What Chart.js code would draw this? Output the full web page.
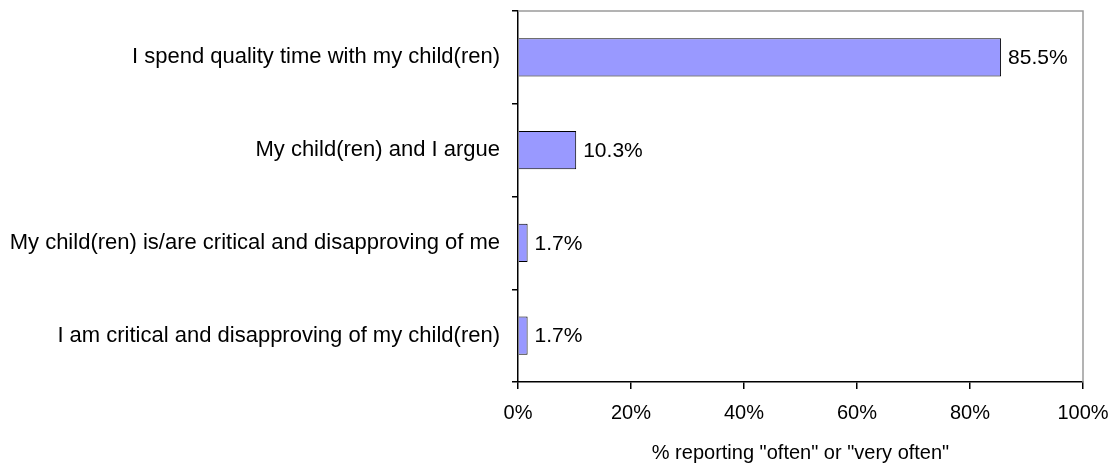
<!DOCTYPE html>
<html>
<head>
<meta charset="utf-8">
<script src="https://cdn.jsdelivr.net/npm/chart.js@4"></script>
<style>
  html, body { margin: 0; padding: 0; background: #fff; }
  #wrap { width: 1116px; height: 466px; }
</style>
</head>
<body>
<div id="wrap"><canvas id="parentChart"></canvas></div>
<script>
const categories = [
    'I spend quality time with my child(ren)',
    'My child(ren) and I argue',
    'My child(ren) is/are critical and disapproving of me',
    'I am critical and disapproving of my child(ren)'
];
const percentOften = [85.5, 10.3, 1.7, 1.7];
const xTicks = [0, 20, 40, 60, 80, 100];
const axisTitle = '% reporting "often" or "very often"';

const fontFamily = '"Liberation Sans", Arial, sans-serif';
Chart.defaults.font.family = fontFamily;
Chart.defaults.font.size = 20;
Chart.defaults.color = '#000';

// value label to the right of each bar
const barLabels = {
    id: 'barLabels',
    afterDatasetsDraw(chart) {
        const ctx = chart.ctx;
        const meta = chart.getDatasetMeta(0);
        ctx.save();
        ctx.font = '21px ' + fontFamily;
        ctx.fillStyle = '#000';
        ctx.textAlign = 'left';
        ctx.textBaseline = 'middle';
        meta.data.forEach((bar, i) => {
            ctx.fillText(percentOften[i].toFixed(1) + '%', bar.x + 7, bar.y + 1);
        });
        ctx.restore();
    }
};

// grey plot-area frame on top and right
const plotFrame = {
    id: 'plotFrame',
    beforeDatasetsDraw(chart) {
        const { ctx, chartArea: a } = chart;
        ctx.save();
        ctx.strokeStyle = '#9a9a9a';
        ctx.lineWidth = 1.5;
        ctx.beginPath();
        ctx.moveTo(a.left, a.top);
        ctx.lineTo(a.right, a.top);
        ctx.lineTo(a.right, a.bottom);
        ctx.stroke();
        ctx.restore();
    }
};

new Chart(document.getElementById('parentChart'), {
    type: 'bar',
    data: {
        labels: categories,
        datasets: [{
            data: percentOften,
            backgroundColor: '#9999ff',
            borderColor: '#000',
            borderWidth: 1,
            barPercentage: 0.82,
            categoryPercentage: 0.5
        }]
    },
    options: {
        indexAxis: 'y',
        responsive: true, maintainAspectRatio: false,
        animation: false,
        layout: { padding: { top: 11, right: 33, left: 0, bottom: 0 } },
        plugins: { legend: { display: false }, tooltip: { enabled: false } },
        scales: {
            x: {
                min: 0, max: 100,
                afterBuildTicks: (scale) => { scale.ticks = xTicks.map(v => ({ value: v })); },
                afterFit: (scale) => {
                    scale.height = 84;
                    scale.paddingLeft = 0;
                    scale.paddingRight = 0;
                },
                ticks: { callback: (v) => v + '%', padding: 12, maxRotation: 0 },
                grid: { drawOnChartArea: false, color: '#000', tickLength: 7, lineWidth: 1.5 },
                border: { color: '#000', width: 1.5 },
                title: { display: true, text: axisTitle, padding: { top: 4, bottom: 1 } }
            },
            y: {
                afterFit: (scale) => {
                    scale.width = 518;
                    scale.paddingTop = 0;
                    scale.paddingBottom = 0;
                },
                ticks: { padding: 12, font: { size: 22 } },
                grid: { drawOnChartArea: false, color: '#000', tickLength: 6, lineWidth: 1.5, offset: true },
                border: { color: '#000', width: 1.5 }
            }
        }
    },
    plugins: [barLabels, plotFrame]
});
</script>
</body>
</html>
